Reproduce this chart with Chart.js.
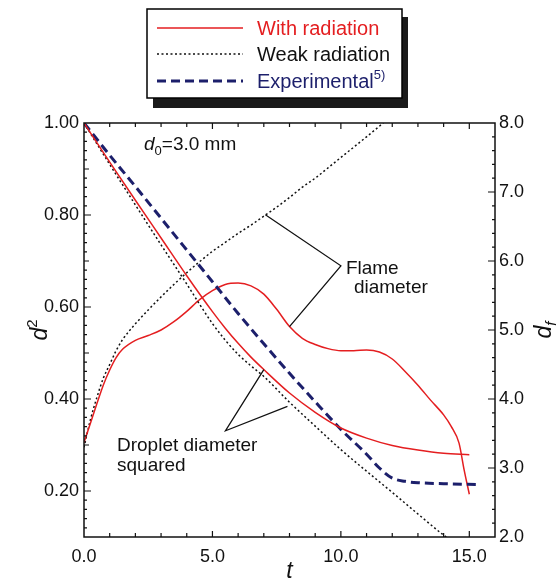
<!DOCTYPE html>
<html>
<head>
<meta charset="utf-8">
<script src="https://cdn.jsdelivr.net/npm/chart.js@4.4.1/dist/chart.umd.min.js"></script>
<style>
  html, body { margin: 0; padding: 0; background: #fff; }
  canvas { display: block; }
</style>
</head>
<body>
<canvas id="dropletChart" width="557" height="581"></canvas>
<script>
// droplet diameter squared, d^2 (left axis)
const tD2Rad = [0, 1, 2, 3, 4, 5, 5.5, 6, 6.5, 7, 8, 9, 10, 11, 12, 13, 14, 15]
const d2Rad = [1.0, 0.915, 0.832, 0.75, 0.668, 0.59, 0.554, 0.521, 0.491, 0.464, 0.413, 0.371, 0.337, 0.315, 0.299, 0.289, 0.282, 0.279]

const tD2Weak = [0, 1, 2, 3, 4, 4.5, 5, 5.5, 6, 6.5, 7, 8, 9, 10, 11, 12, 13, 14, 14.1]
const d2Weak = [1.0, 0.91, 0.822, 0.735, 0.65, 0.606, 0.564, 0.528, 0.497, 0.472, 0.449, 0.393, 0.341, 0.29, 0.243, 0.197, 0.15, 0.104, 0.1]

const tD2Exp = [0, 1, 2, 3, 4, 5, 6, 7, 8, 9, 10, 11, 11.5, 12, 12.5, 13, 14, 15.4]
const d2Exp = [1.0, 0.93, 0.862, 0.793, 0.724, 0.655, 0.586, 0.52, 0.456, 0.394, 0.334, 0.28, 0.25, 0.228, 0.221, 0.218, 0.216, 0.214]

// flame diameter, d_f (right axis)
const tDfRad = [0, 0.25, 0.5, 0.75, 1, 1.25, 1.5, 2, 2.5, 3, 3.5, 4, 4.5, 5, 5.5, 6, 6.5, 7, 7.5, 8, 8.5, 9, 9.5, 10, 10.5, 11, 11.5, 12, 12.5, 13, 13.5, 14, 14.3, 14.6, 14.8, 15]
const dfRad = [3.37, 3.65, 3.93, 4.2, 4.42, 4.6, 4.72, 4.85, 4.92, 5.0, 5.12, 5.27, 5.44, 5.57, 5.66, 5.68, 5.64, 5.52, 5.3, 5.05, 4.88, 4.79, 4.73, 4.7, 4.7, 4.71, 4.68, 4.58, 4.4, 4.2, 3.98, 3.77, 3.6, 3.36, 2.97, 2.62]

const tDfWeak = [0, 0.25, 0.5, 0.75, 1, 1.25, 1.5, 1.75, 2, 2.5, 3, 3.5, 4, 4.5, 5, 5.5, 6, 6.5, 7, 7.5, 8, 8.5, 9, 9.5, 10, 10.5, 11, 11.65]
const dfWeak = [3.3, 3.7, 4.02, 4.3, 4.5, 4.7, 4.86, 4.98, 5.09, 5.29, 5.48, 5.66, 5.83, 5.99, 6.14, 6.27, 6.4, 6.52, 6.65, 6.78, 6.92, 7.07, 7.2, 7.35, 7.5, 7.65, 7.8, 8.0]

const xTicksLabelled = [0, 5, 10, 15]

const RED = "#e41e20"
const NAVY = "#1c1f6b"
const INK = "#111111"
const FONT = "Arial, 'Liberation Sans', sans-serif"

const pts = (ts, vs) => ts.map((t, i) => ({ x: t, y: vs[i] }))

// text made of runs: [text, font, dy]
function drawRuns(ctx, x, y, runs, color) {
  ctx.fillStyle = color
  ctx.textBaseline = "alphabetic"
  ctx.textAlign = "left"
  let cx = x
  runs.forEach(([text, font, dy]) => {
    ctx.font = font
    ctx.fillText(text, cx, y + (dy || 0))
    cx += ctx.measureText(text).width
  })
  return cx - x
}

function runsWidth(ctx, runs) {
  let w = 0
  runs.forEach(([text, font]) => {
    ctx.font = font
    w += ctx.measureText(text).width
  })
  return w
}

const decor = {
  id: "decor",
  afterDraw(chart) {
    const { ctx, chartArea: a, scales } = chart
    const xs = scales.x, yl = scales.yL, yr = scales.yR
    ctx.save()

    // plot frame
    ctx.strokeStyle = INK
    ctx.lineWidth = 1.5
    ctx.strokeRect(a.left, a.top, a.right - a.left, a.bottom - a.top)

    // inward tick marks
    ctx.lineWidth = 1.2
    ctx.beginPath()
    for (let t = 1; t < 16; t++) {
      const px = xs.getPixelForValue(t)
      const len = t % 5 === 0 ? 6 : 4
      ctx.moveTo(px, a.bottom); ctx.lineTo(px, a.bottom - len)
      ctx.moveTo(px, a.top); ctx.lineTo(px, a.top + len)
    }
    for (let i = 6; i < 50; i++) {
      const py = yl.getPixelForValue(i / 50)
      const len = i % 10 === 0 ? 7 : (i % 5 === 0 ? 5 : 3)
      ctx.moveTo(a.left, py); ctx.lineTo(a.left + len, py)
    }
    for (let i = 11; i < 40; i++) {
      const py = yr.getPixelForValue(i / 5)
      const len = i % 5 === 0 ? 7 : 3
      ctx.moveTo(a.right, py); ctx.lineTo(a.right - len, py)
    }
    ctx.stroke()

    // axis titles
    const it22 = "italic 23px " + FONT
    const sm = "15px " + FONT
    ctx.save()
    ctx.translate(47, 330)
    ctx.rotate(-Math.PI / 2)
    const lRuns = [["d", it22, 0], ["2", sm, -10]]
    drawRuns(ctx, -runsWidth(ctx, lRuns) / 2, 0, lRuns, INK)
    ctx.restore()

    ctx.save()
    ctx.translate(551, 330)
    ctx.rotate(-Math.PI / 2)
    const rRuns = [["d", it22, 0], ["f", "italic 15px " + FONT, 5]]
    drawRuns(ctx, -runsWidth(ctx, rRuns) / 2, 0, rRuns, INK)
    ctx.restore()

    const tRuns = [["t", it22, 0]]
    drawRuns(ctx, xs.getPixelForValue(8) - runsWidth(ctx, tRuns) / 2, 578, tRuns, INK)

    // d0 label
    const f19 = "19px " + FONT
    drawRuns(ctx, 144, 150, [["d", "italic 19px " + FONT, 0], ["0", "13px " + FONT, 5], ["=3.0 mm", f19, 0]], INK)

    // leader lines, anchored in data units
    ctx.strokeStyle = INK
    ctx.lineWidth = 1.3
    ctx.beginPath()
    const fv = [xs.getPixelForValue(10.0), yr.getPixelForValue(5.93)]
    ctx.moveTo(xs.getPixelForValue(7.06), yr.getPixelForValue(6.67))
    ctx.lineTo(fv[0], fv[1])
    ctx.lineTo(xs.getPixelForValue(8.0), yr.getPixelForValue(5.05))
    const dv = [xs.getPixelForValue(5.51), yl.getPixelForValue(0.331)]
    ctx.moveTo(xs.getPixelForValue(7.0), yl.getPixelForValue(0.464))
    ctx.lineTo(dv[0], dv[1])
    ctx.lineTo(xs.getPixelForValue(7.92), yl.getPixelForValue(0.384))
    ctx.stroke()

    drawRuns(ctx, fv[0] + 5, fv[1] + 8, [["Flame", f19]], INK)
    drawRuns(ctx, fv[0] + 13, fv[1] + 27, [["diameter", f19]], INK)
    drawRuns(ctx, 117, 451, [["Droplet diameter", f19]], INK)
    drawRuns(ctx, 117, 471, [["squared", f19]], INK)

    // legend box with drop shadow
    ctx.fillStyle = "#1a1a1a"
    ctx.fillRect(153, 17, 255, 91)
    ctx.fillStyle = "#fff"
    ctx.fillRect(147, 9, 255, 89)
    ctx.strokeStyle = "#000"
    ctx.lineWidth = 1.5
    ctx.strokeRect(147, 9, 255, 89)

    const legendRows = [
      { y: 28, color: RED, width: 1.5, dash: [], label: [["With radiation", "20px " + FONT]] },
      { y: 54, color: INK, width: 1.5, dash: [2, 2.5], label: [["Weak radiation", "20px " + FONT]] },
      { y: 81, color: NAVY, width: 3, dash: [9, 5], label: [["Experimental", "20px " + FONT], ["5)", "13px " + FONT, -9]] }
    ]
    legendRows.forEach((row) => {
      ctx.strokeStyle = row.color
      ctx.lineWidth = row.width
      ctx.setLineDash(row.dash)
      ctx.beginPath()
      ctx.moveTo(157, row.y)
      ctx.lineTo(243, row.y)
      ctx.stroke()
      ctx.setLineDash([])
      drawRuns(ctx, 257, row.y + 7, row.label, row.color)
    })

    ctx.restore()
  }
}

new Chart(document.getElementById("dropletChart"), {
  type: "line",
  data: {
    datasets: [
      { label: "With radiation d2", data: pts(tD2Rad, d2Rad), yAxisID: "yL", borderColor: RED, borderWidth: 1.5, cubicInterpolationMode: "monotone" },
      { label: "Weak radiation d2", data: pts(tD2Weak, d2Weak), yAxisID: "yL", borderColor: INK, borderWidth: 1.5, borderDash: [2, 2.5], cubicInterpolationMode: "monotone" },
      { label: "Experimental d2", data: pts(tD2Exp, d2Exp), yAxisID: "yL", borderColor: NAVY, borderWidth: 3, borderDash: [9, 5], cubicInterpolationMode: "monotone" },
      { label: "With radiation df", data: pts(tDfRad, dfRad), yAxisID: "yR", borderColor: RED, borderWidth: 1.5, cubicInterpolationMode: "monotone" },
      { label: "Weak radiation df", data: pts(tDfWeak, dfWeak), yAxisID: "yR", borderColor: INK, borderWidth: 1.5, borderDash: [2, 2.5], cubicInterpolationMode: "monotone" }
    ]
  },
  options: {
    responsive: false,
    animation: false,
    devicePixelRatio: 1,
    layout: { padding: { top: 123, left: 0, right: 0, bottom: 0 } },
    elements: { point: { radius: 0 } },
    plugins: { legend: { display: false }, tooltip: { enabled: false } },
    scales: {
      x: {
        type: "linear",
        min: 0,
        max: 16,
        grid: { display: false, drawTicks: false },
        border: { display: false },
        afterFit(scale) { scale.height = 44 },
        ticks: {
          stepSize: 1,
          autoSkip: false,
          maxRotation: 0,
          padding: 9,
          color: INK,
          font: { family: FONT, size: 18 },
          callback: (v) => (xTicksLabelled.includes(v) ? v.toFixed(1) : "")
        }
      },
      yL: {
        type: "linear",
        position: "left",
        min: 0.1,
        max: 1.0,
        grid: { display: false, drawTicks: false },
        border: { display: false },
        afterFit(scale) { scale.width = 84 },
        ticks: {
          stepSize: 0.1,
          padding: 5,
          color: INK,
          font: { family: FONT, size: 18 },
          callback: (v) => (Math.abs(v * 5 - Math.round(v * 5)) < 1e-6 ? v.toFixed(2) : "")
        }
      },
      yR: {
        type: "linear",
        position: "right",
        min: 2,
        max: 8,
        grid: { display: false, drawTicks: false },
        border: { display: false },
        afterFit(scale) { scale.width = 62 },
        ticks: {
          stepSize: 1,
          padding: 4,
          color: INK,
          font: { family: FONT, size: 18 },
          callback: (v) => v.toFixed(1)
        }
      }
    }
  },
  plugins: [decor]
})
</script>
</body>
</html>
